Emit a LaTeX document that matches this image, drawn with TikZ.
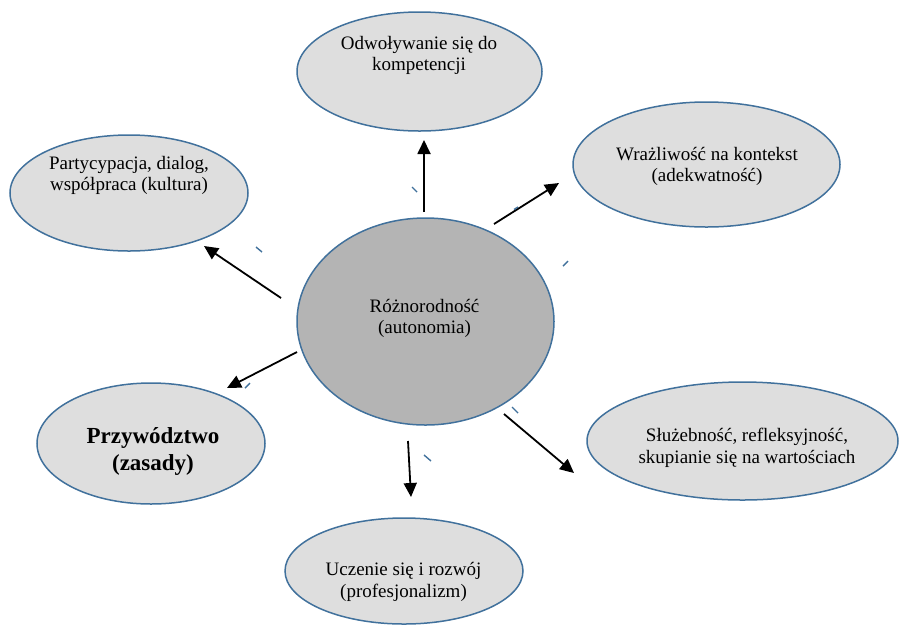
\documentclass[tikz,border=0pt]{standalone}
\usepackage{fontspec}
\setmainfont{Liberation Serif}
\usetikzlibrary{shapes.geometric,arrows.meta}
\definecolor{edgeblue}{HTML}{41719C}
\definecolor{lightfill}{HTML}{DEDEDE}
\definecolor{darkfill}{HTML}{B4B4B4}
\tikzset{
  oval/.style={ellipse, draw=edgeblue, line width=1.5pt, fill=lightfill, inner sep=0pt},
  txt/.style={align=center, inner sep=0pt, font=\fontsize{19}{21.5}\selectfont, text=black},
  boldtxt/.style={align=center, inner sep=0pt, font=\fontsize{23}{27}\selectfont\bfseries, text=black},
  link/.style={line width=1.8pt, -{Triangle[length=14pt,width=13pt]}},
  bluemark/.style={draw=edgeblue, line width=1.4pt}
}
\begin{document}
\begin{tikzpicture}[x=1pt,y=-1pt]
\useasboundingbox (0,0) rectangle (899,625);
% ellipses
\node[oval, minimum width=245pt, minimum height=119pt] (top) at (419.5,71.5) {};
\node[oval, minimum width=238pt, minimum height=116pt] (ul) at (129,193) {};
\node[oval, minimum width=267pt, minimum height=125pt] (ur) at (706.5,164.5) {};
\node[oval, fill=darkfill, minimum width=257pt, minimum height=207pt] (mid) at (425.5,321.5) {};
\node[oval, minimum width=228pt, minimum height=121pt] (ll) at (151,443.5) {};
\node[oval, minimum width=311pt, minimum height=118pt] (lr) at (742.5,441) {};
\node[oval, minimum width=238pt, minimum height=106pt] (bot) at (404,571) {};
% texts
\node[txt] (ttop) at (419,55.5) {Odwoływanie się do\\kompetencji};
\node[txt] (tul) at (129,175.5) {Partycypacja, dialog,\\współpraca (kultura)};
\node[txt] (tur) at (707,166.5) {Wrażliwość na kontekst\\(adekwatność)};
\node[txt] (tmid) at (424.5,318.5) {Różnorodność\\(autonomia)};
\node[boldtxt] (tll) at (153,451) {Przywództwo\\(zasady)};
\node[txt] (tlr) at (747,448) {Służebność, refleksyjność,\\skupianie się na wartościach};
\node[txt] (tbot) at (403.5,582) {Uczenie się i rozwój\\(profesjonalizm)};
% arrow end points
\coordinate (a1s) at (424,212); \coordinate (a1e) at (424,140);
\coordinate (a2s) at (494,224); \coordinate (a2e) at (559,183);
\coordinate (a3s) at (281,298); \coordinate (a3e) at (204,246);
\coordinate (a4s) at (297,352); \coordinate (a4e) at (227,388);
\coordinate (a5s) at (408,441); \coordinate (a5e) at (411,497);
\coordinate (a6s) at (504,414); \coordinate (a6e) at (574,473);
\draw[link] (a1s) -- (a1e);
\draw[link] (a2s) -- (a2e);
\draw[link] (a3s) -- (a3e);
\draw[link] (a4s) -- (a4e);
\draw[link] (a5s) -- (a5e);
\draw[link] (a6s) -- (a6e);
% small blue marks
\draw[bluemark] (412,187) -- (417,192);
\draw[bluemark] (514,209.5) -- (518,207);
\draw[bluemark] (256,247) -- (262,252);
\draw[bluemark] (245,388) -- (250,383);
\draw[bluemark] (512,407) -- (518,413);
\draw[bluemark] (424,455) -- (431,461);
\draw[bluemark] (563,266) -- (568,261);
\end{tikzpicture}
\end{document}
